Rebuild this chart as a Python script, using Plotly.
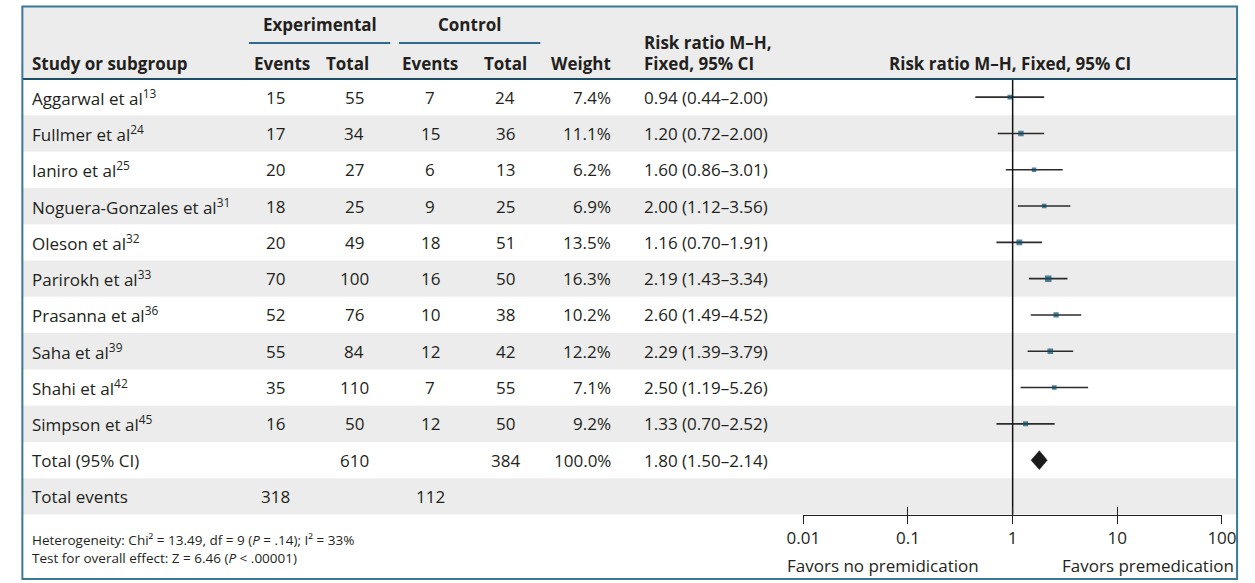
import plotly.graph_objects as go

# ---------------- data ----------------
studies = ["Aggarwal et al", "Fullmer et al", "Ianiro et al", "Noguera-Gonzales et al",
           "Oleson et al", "Parirokh et al", "Prasanna et al", "Saha et al",
           "Shahi et al", "Simpson et al"]
refs = ["13", "24", "25", "31", "32", "33", "36", "39", "42", "45"]
exp_events = [15, 17, 20, 18, 20, 70, 52, 55, 35, 16]
exp_total = [55, 34, 27, 25, 49, 100, 76, 84, 110, 50]
ctl_events = [7, 15, 6, 9, 18, 16, 10, 12, 7, 12]
ctl_total = [24, 36, 13, 25, 51, 50, 38, 42, 55, 50]
weights = [7.4, 11.1, 6.2, 6.9, 13.5, 16.3, 10.2, 12.2, 7.1, 9.2]
rr = [0.94, 1.20, 1.60, 2.00, 1.16, 2.19, 2.60, 2.29, 2.50, 1.33]
rr_lo = [0.44, 0.72, 0.86, 1.12, 0.70, 1.43, 1.49, 1.39, 1.19, 0.70]
rr_hi = [2.00, 2.00, 3.01, 3.56, 1.91, 3.34, 4.52, 3.79, 5.26, 2.52]

total_exp, total_ctl, total_weight = 610, 384, 100.0
total_rr, total_lo, total_hi = 1.80, 1.50, 2.14
events_exp, events_ctl = 318, 112

tick_vals = [0.01, 0.1, 1, 10, 100]
tick_text = ["0.01", "0.1", "1", "10", "100"]
heterogeneity = "Heterogeneity: Chi² = 13.49, df = 9 (<i>P</i> = .14); I² = 33%"
overall = "Test for overall effect: Z = 6.46 (<i>P</i> < .00001)"
left_label = "Favors no premidication"
right_label = "Favors premedication"

# ---------------- layout constants ----------------
W, H = 1255, 583
TOP = 79.0        # bottom of header
ROW_H = 36.3
FONT = "Open Sans"
TXT = "#231f20"
BODY = 17
SMALL = 13.5
STRIPE = "#ebeceb"
FRAME = "#3b7896"
LINE_DARK = "#1e4d66"
MARK = "#0b4a6a"

def px(x):
    return x / W

def py(y):
    return 1 - y / H

n = len(studies)
rows_total = n + 2  # + Total (95% CI) + Total events

fig = go.Figure()

# CI lines
xs, ys = [], []
for i in range(n):
    xs += [rr_lo[i], rr_hi[i], None]
    ys += [i, i, None]
fig.add_trace(go.Scatter(x=xs, y=ys, mode="lines", line=dict(color="#2b2b2b", width=1.6),
                         hoverinfo="skip", showlegend=False))
# vertical line at 1
fig.add_trace(go.Scatter(x=[1, 1], y=[-0.5, rows_total - 0.5], mode="lines",
                         line=dict(color="#111111", width=1.5), hoverinfo="skip", showlegend=False))
# study markers
fig.add_trace(go.Scatter(x=rr, y=list(range(n)), mode="markers",
                         marker=dict(symbol="square", color=MARK,
                                     size=[3.2 + 0.2 * w for w in weights], line=dict(width=0)),
                         showlegend=False))
# diamond for total
ti = n
dh = 0.26
fig.add_trace(go.Scatter(x=[total_lo, total_rr, total_hi, total_rr, total_lo],
                         y=[ti, ti - dh, ti, ti + dh, ti], mode="lines", fill="toself",
                         fillcolor="#1a1a1a", line=dict(color="#1a1a1a", width=0.5),
                         showlegend=False))

shapes = []
# header background
shapes.append(dict(type="rect", xref="paper", yref="paper", x0=px(5.5), x1=px(1252),
                   y0=py(TOP), y1=py(6.5), fillcolor=STRIPE, line=dict(width=0), layer="below"))
# stripes
for i in range(1, rows_total, 2):
    shapes.append(dict(type="rect", xref="paper", yref="y", x0=px(5.5), x1=px(1252),
                       y0=i - 0.5, y1=i + 0.5, fillcolor=STRIPE, line=dict(width=0), layer="below"))
# underlines for group headers
shapes.append(dict(type="line", xref="paper", yref="paper", x0=px(238), x1=px(383),
                   y0=py(43), y1=py(43), line=dict(color="#2d6a8b", width=2)))
shapes.append(dict(type="line", xref="paper", yref="paper", x0=px(392), x1=px(537),
                   y0=py(43), y1=py(43), line=dict(color="#2d6a8b", width=2)))
# header bottom line
shapes.append(dict(type="line", xref="paper", yref="paper", x0=px(5.5), x1=px(1252),
                   y0=py(TOP), y1=py(TOP), line=dict(color=LINE_DARK, width=2)))
# frame
shapes.append(dict(type="rect", xref="paper", yref="paper", x0=px(5.5), x1=px(1252),
                   y0=py(579), y1=py(6.5), line=dict(color=FRAME, width=2), fillcolor="rgba(0,0,0,0)"))

ann = []

def text(x, y, s, anchor="center", size=BODY, yref="y", bold=False):
    if bold:
        s = "<b>" + s + "</b>"
    ann.append(dict(x=px(x), y=y if yref == "y" else py(y), xref="paper", yref=yref,
                    text=s, showarrow=False, xanchor=anchor, yanchor="middle",
                    font=dict(family=FONT, size=size, color=TXT)))

# header
text(311, 25, "Experimental", yref="paper", bold=True)
text(464, 25, "Control", yref="paper", bold=True)
text(13, 63, "Study or subgroup", "left", yref="paper", bold=True)
text(272, 63, "Events", yref="paper", bold=True)
text(339, 63, "Total", yref="paper", bold=True)
text(424, 63, "Events", yref="paper", bold=True)
text(501, 63, "Total", yref="paper", bold=True)
text(612, 63, "Weight", "right", yref="paper", bold=True)
text(641, 43, "Risk ratio M–H,", "left", yref="paper", bold=True)
text(641, 63, "Fixed, 95% CI", "left", yref="paper", bold=True)
text(1019, 63, "Risk ratio M–H, Fixed, 95% CI", yref="paper", bold=True)

# study rows
for i in range(n):
    text(13, i, f"{studies[i]}<sup>{refs[i]}</sup>", "left")
    text(265, i, str(exp_events[i]))
    text(346, i, str(exp_total[i]))
    text(424, i, str(ctl_events[i]))
    text(501, i, str(ctl_total[i]))
    text(612, i, f"{weights[i]:.1f}%", "right")
    text(641, i, f"{rr[i]:.2f} ({rr_lo[i]:.2f}–{rr_hi[i]:.2f})", "left")

# totals
text(13, n, "Total (95% CI)", "left")
text(346, n, str(total_exp))
text(501, n, str(total_ctl))
text(612, n, f"{total_weight:.1f}%", "right")
text(641, n, f"{total_rr:.2f} ({total_lo:.2f}–{total_hi:.2f})", "left")
text(13, n + 1, "Total events", "left")
text(265, n + 1, str(events_exp))
text(424, n + 1, str(events_ctl))

# footer
text(13, 540, heterogeneity, "left", size=SMALL, yref="paper")
text(13, 558, overall, "left", size=SMALL, yref="paper")
text(788, 565, left_label, "left", yref="paper")
text(1251, 565, right_label, "right", yref="paper")

axis_pos = py(TOP + ROW_H * rows_total)
dom = [px(806.9), px(1236.5)]
y_range = [(H - TOP) / ROW_H - 0.5, -TOP / ROW_H - 0.5]

fig.update_layout(
    width=W, height=H, margin=dict(l=0, r=0, t=0, b=0),
    paper_bgcolor="white", plot_bgcolor="rgba(0,0,0,0)",
    shapes=shapes, annotations=ann, showlegend=False,
    xaxis=dict(type="log", domain=dom, range=[-2, 2], anchor="free", position=axis_pos,
               showline=True, linecolor="#222222", linewidth=1.3, ticks="outside",
               ticklen=8, tickwidth=1.3, tickcolor="#222222", tickvals=tick_vals,
               ticktext=tick_text, tickfont=dict(family=FONT, size=BODY, color=TXT),
               showgrid=False, zeroline=False, fixedrange=True),
    xaxis2=dict(type="log", domain=dom, range=[-2, 2], anchor="free", position=axis_pos,
                overlaying="x", matches="x", showline=False, ticks="inside", ticklen=8,
                tickwidth=1.3, tickcolor="#222222", tickvals=tick_vals,
                showticklabels=False, showgrid=False, zeroline=False),
    yaxis=dict(domain=[0, 1], range=y_range, visible=False, fixedrange=True),
)
# invisible trace so that xaxis2 is drawn
fig.add_trace(go.Scatter(x=[1], y=[0], xaxis="x2", mode="markers",
                         marker=dict(opacity=0), hoverinfo="skip", showlegend=False))

fig.write_html("out.html", config={"displayModeBar": False},
               post_script="document.body.style.margin='0px';document.body.style.overflow='hidden';")
